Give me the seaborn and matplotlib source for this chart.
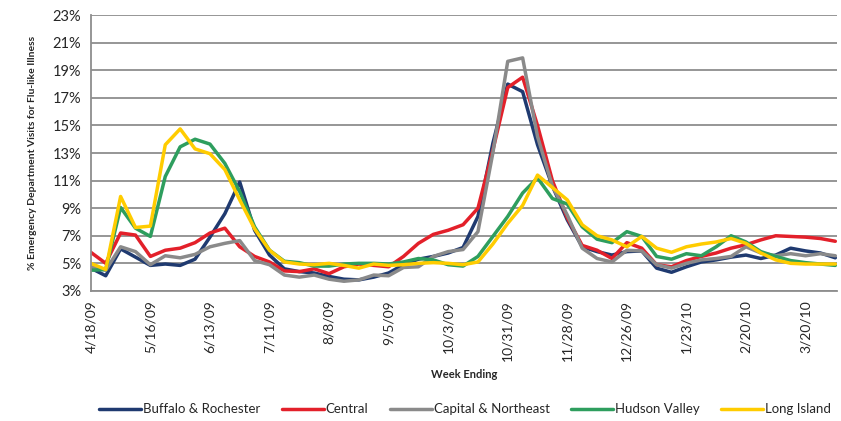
"""
Weekly % of emergency department visits for flu-like illness, by region.
"""

import numpy as np
import pandas as pd
import matplotlib
matplotlib.use("Agg")
import matplotlib.pyplot as plt
import seaborn as sns

OUT_PATH = "out.png"

# Axe des x : une valeur par semaine (4/18/09 -> 4/3/10), étiquette toutes les 4 semaines
TICK_LABELS = ["4/18/09", "5/16/09", "6/13/09", "7/11/09", "8/8/09", "9/5/09",
               "10/3/09", "10/31/09", "11/28/09", "12/26/09", "1/23/10",
               "2/20/10", "3/20/10"]
TICK_STEP = 4

REGIONS = ["Buffalo & Rochester", "Central", "Capital & Northeast",
           "Hudson Valley", "Long Island"]
COLORS = ["#1F3A70", "#E3202A", "#8A8A8A", "#2E9E5E", "#FFCC00"]

buffalo = [4.65, 4.1, 6.05, 5.45, 4.85, 4.95, 4.85, 5.3, 6.9, 8.6, 10.9,
           7.4, 5.6, 4.6, 4.4, 4.3, 4.05, 3.85, 3.8, 4.0, 4.3,
           4.9, 5.3, 5.5, 5.75, 6.15, 8.4, 13.7, 18.0, 17.45, 13.6,
           10.6, 8.15, 6.2, 5.85, 5.6, 5.85, 5.9, 4.65, 4.35, 4.75,
           5.1, 5.25, 5.45, 5.6, 5.35, 5.6, 6.1, 5.9, 5.75, 5.4]
central = [5.8, 5.0, 7.2, 7.05, 5.5, 5.95, 6.1, 6.5, 7.2, 7.55, 6.2,
           5.5, 5.1, 4.45, 4.4, 4.6, 4.25, 4.75, 4.95, 4.85, 4.75,
           5.5, 6.45, 7.1, 7.4, 7.8, 9.0, 13.2, 17.75, 18.5, 15.0,
           11.0, 8.3, 6.3, 5.95, 5.35, 6.5, 6.1, 4.9, 4.75, 5.2,
           5.5, 5.75, 6.1, 6.35, 6.7, 7.0, 6.95, 6.9, 6.8, 6.6]
capital = [4.75, 4.5, 6.2, 5.85, 4.9, 5.55, 5.4, 5.65, 6.2, 6.45, 6.65,
           5.2, 4.9, 4.15, 4.0, 4.15, 3.85, 3.7, 3.8, 4.15, 4.1,
           4.7, 4.75, 5.5, 5.85, 6.0, 7.3, 13.0, 19.65, 19.9, 14.2,
           10.6, 8.5, 6.1, 5.35, 5.1, 5.95, 5.9, 4.9, 4.65, 5.0,
           5.25, 5.35, 5.5, 6.2, 5.75, 5.55, 5.7, 5.55, 5.7, 5.55]
hudson = [4.5, 4.55, 9.05, 7.55, 6.95, 11.3, 13.45, 14.0, 13.65, 12.25, 10.2,
          7.65, 5.95, 5.15, 5.05, 4.8, 4.8, 4.95, 5.0, 5.0, 4.95,
          5.1, 5.35, 5.25, 4.9, 4.8, 5.5, 6.95, 8.4, 10.1, 11.2,
          9.7, 9.3, 7.65, 6.75, 6.5, 7.3, 6.95, 5.5, 5.3, 5.7,
          5.55, 6.2, 7.0, 6.55, 5.85, 5.5, 5.2, 5.05, 4.95, 4.85]
long_island = [5.0, 4.55, 9.85, 7.6, 7.7, 13.6, 14.75, 13.3, 12.95, 11.8, 9.6,
               7.5, 5.95, 5.1, 4.95, 4.9, 5.0, 4.85, 4.65, 4.95, 4.85,
               4.9, 5.0, 5.05, 5.0, 4.9, 5.1, 6.4, 7.9, 9.2, 11.4,
               10.5, 9.6, 7.8, 7.0, 6.7, 6.2, 6.95, 6.1, 5.8, 6.2,
               6.4, 6.55, 6.8, 6.45, 5.75, 5.25, 5.0, 4.95, 4.95, 4.95]

Y_TICKS = list(range(3, 24, 2))
GRID_COLOR = "#8E8E8E"


def build_frame():
    series = [buffalo, central, capital, hudson, long_island]
    rows = []
    for region, values in zip(REGIONS, series):
        for week, v in enumerate(values):
            rows.append({"week": week, "region": region, "pct": v})
    return pd.DataFrame(rows)


def main():
    sns.set_style("white")
    plt.rcParams["font.family"] = ["Lato", "DejaVu Sans"]

    df = build_frame()
    n_weeks = df["week"].max() + 1

    fig = plt.figure(figsize=(8.41, 4.21), dpi=100)
    ax = fig.add_axes([0.108, 0.309, 0.887, 0.655])

    sns.lineplot(data=df, x="week", y="pct", hue="region",
                 hue_order=REGIONS, palette=COLORS, linewidth=2.5,
                 ax=ax, legend=True)

    ax.set_ylim(3, 23)
    ax.set_xlim(0, n_weeks - 1 + 0.1)
    ax.set_yticks(Y_TICKS)
    ax.set_yticklabels([f"{v}%" for v in Y_TICKS], fontsize=10.5)
    ax.set_xticks(np.arange(len(TICK_LABELS)) * TICK_STEP)
    ax.set_xticklabels(TICK_LABELS, rotation=90, fontsize=10)

    ax.yaxis.grid(True, color=GRID_COLOR, linewidth=1.3)
    ax.set_axisbelow(True)
    for side in ["top", "right"]:
        ax.spines[side].set_visible(False)
    for side in ["left", "bottom"]:
        ax.spines[side].set_color(GRID_COLOR)
        ax.spines[side].set_linewidth(1.3)
    ax.tick_params(axis="y", direction="out", length=4, width=1.2,
                   color=GRID_COLOR, pad=3)
    ax.tick_params(axis="x", direction="inout", length=9, width=1.2,
                   color=GRID_COLOR, pad=2)

    ax.set_xlabel("Week Ending", fontsize=8, fontweight="bold", labelpad=6)
    ax.set_ylabel("% Emergency Department Visits for Flu-like Illness",
                  fontsize=7.5, fontweight="bold", labelpad=11)

    handles, labels = ax.get_legend_handles_labels()
    ax.get_legend().remove()
    fig.legend(handles, labels, loc="center", ncol=5, frameon=False,
               bbox_to_anchor=(0.553, 0.028), fontsize=9.5,
               handlelength=3.2, handletextpad=0.15, columnspacing=1.6)

    fig.savefig(OUT_PATH, dpi=100)
    plt.close(fig)


if __name__ == "__main__":
    main()
